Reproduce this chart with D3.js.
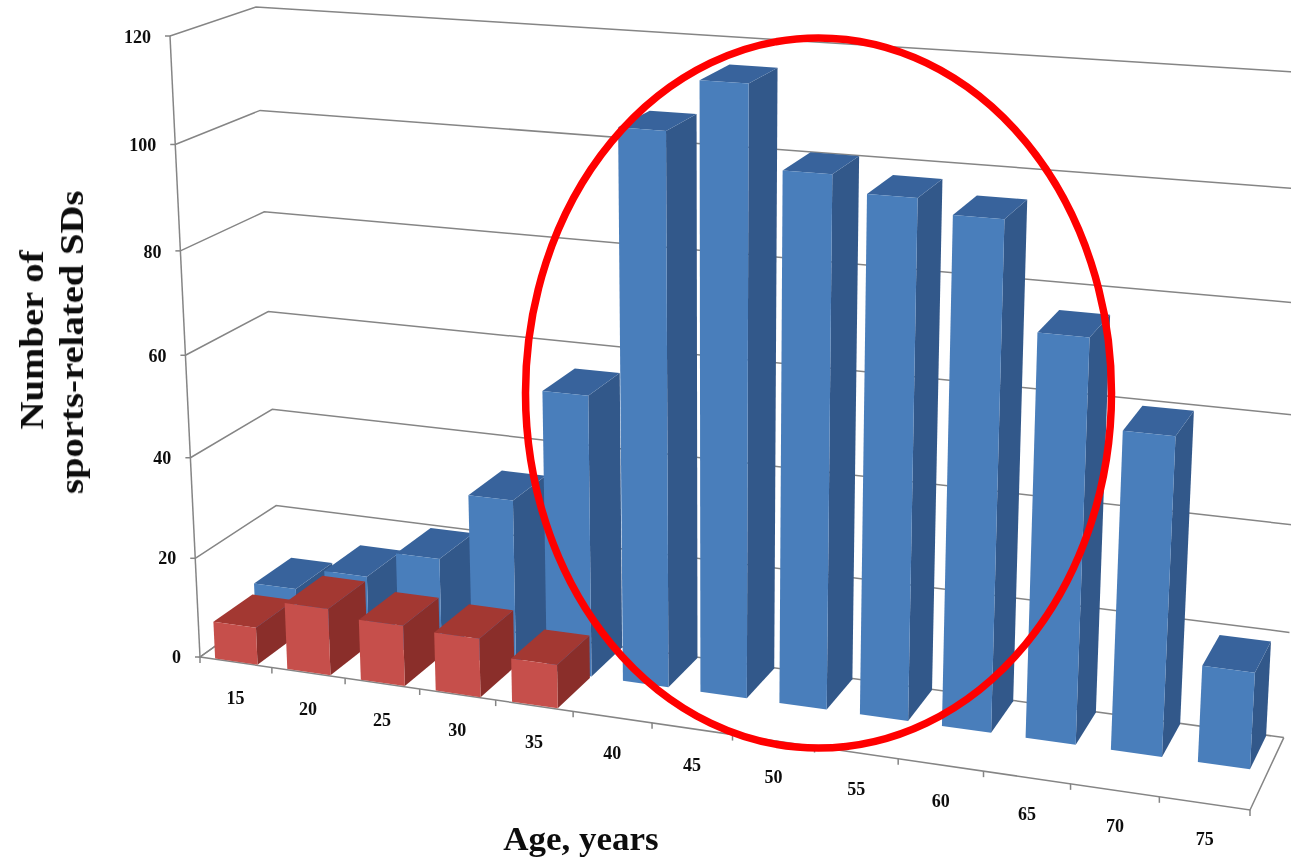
<!DOCTYPE html>
<html>
<head>
<meta charset="utf-8">
<script src="https://cdn.jsdelivr.net/npm/d3@7"></script>
<style>
  html, body { margin: 0; padding: 0; background: #fff; }
  text { font-family: "Liberation Serif", serif; font-weight: bold; fill: #111; }
</style>
</head>
<body>
<div id="chart"></div>
<script>
// DATA
const ages = [15, 20, 25, 30, 35, 40, 45, 50, 55, 60, 65, 70, 75];
const backSeries = [9.5, 14, 19.5, 33, 55, 105.5, 115, 100, 97, 94.5, 75, 59, 18];
const frontSeries = [7.5, 13.3, 12, 11.5, 8.5];
const yTicks = [0, 20, 40, 60, 80, 100, 120];
const seriesOrder = ['front', 'back'];

// PLOT DEFAULTS
const WIDTH = 1291;
const HEIGHT = 858;

// projected corners of the 3d box and the perspective weights of its three axes
const ORIGIN = [200, 657];
const END_AGE = [1250, 810];
const END_DEPTH = [280, 600];
const END_VALUE = [170, 36];
const PERSP = { age: -0.118, depth: 0.05, value: -0.055 };

const COLORS = {
  back: { front: '#4a7ebb', side: '#33588a', top: '#38649c' },
  front: { front: '#c6504b', side: '#8a2f2b', top: '#a33733' },
  grid: '#858585'
};

// scales work in the unit cube, project() then takes it to the screen
const xScale = d3.scaleBand().domain(ages).range([0, 1]).paddingInner(0.41).paddingOuter(0.2);
const zScale = d3.scaleBand().domain(seriesOrder).range([0, 1]).paddingInner(0.05).paddingOuter(0.02);
const yScale = d3.scaleLinear().domain([0, 120]).range([0, 1]);

function project (u, v, w) {
  const h = 1 + PERSP.age * u + PERSP.depth * v + PERSP.value * w;
  return [0, 1].map((i) => (
    ORIGIN[i]
    + u * ((1 + PERSP.age) * END_AGE[i] - ORIGIN[i])
    + v * ((1 + PERSP.depth) * END_DEPTH[i] - ORIGIN[i])
    + w * ((1 + PERSP.value) * END_VALUE[i] - ORIGIN[i])
  ) / h);
}

const line = d3.line();
const svg = d3.select('#chart')
  .append('svg')
  .attr('width', WIDTH)
  .attr('height', HEIGHT)
  .style('display', 'block');

const defs = svg.append('defs');
defs.append('filter').attr('id', 'soft').append('feGaussianBlur').attr('stdDeviation', 0.7);
defs.append('filter').attr('id', 'softText').append('feGaussianBlur').attr('stdDeviation', 0.5);

const plot = svg.append('g').attr('filter', 'url(#soft)');

// walls
const grid = plot.append('g').attr('fill', 'none').attr('stroke', COLORS.grid).attr('stroke-width', 1.5);
grid.selectAll('path.wall')
  .data(yTicks)
  .join('path')
  .attr('class', 'wall')
  .attr('d', (d) => line([project(0, 0, yScale(d)), project(0, 1, yScale(d)), project(1, 1, yScale(d))]));

// floor and value axis
grid.append('path').attr('d', line([project(0, 1, 0), project(0, 0, 0), project(1, 0, 0), project(1, 1, 0)]));
grid.append('path').attr('d', line([project(0, 0, 0), project(0, 0, 1)]));

// tick marks
grid.selectAll('path.xtick')
  .data(d3.range(ages.length + 1))
  .join('path')
  .attr('class', 'xtick')
  .attr('d', (i) => {
    const p = project(i / ages.length, 0, 0);
    return line([p, [p[0], p[1] + 6]]);
  });
grid.selectAll('path.ytick')
  .data(yTicks)
  .join('path')
  .attr('class', 'ytick')
  .attr('d', (d) => {
    const p = project(0, 0, yScale(d));
    return line([[p[0] - 5, p[1]], p]);
  });

// one box per age
function drawBars (name, values) {
  const g = plot.append('g').attr('class', name);
  const v0 = zScale(name);
  const v1 = v0 + zScale.bandwidth();
  const data = values.map((value, i) => ({ age: ages[i], value }));
  const boxes = g.selectAll('g').data(data).join('g');
  const u0 = (d) => xScale(d.age);
  const u1 = (d) => xScale(d.age) + xScale.bandwidth();
  const w = (d) => yScale(d.value);

  boxes.append('path')
    .attr('fill', COLORS[name].side)
    .attr('d', (d) => line([project(u1(d), v0, 0), project(u1(d), v1, 0), project(u1(d), v1, w(d)), project(u1(d), v0, w(d))]) + 'Z');
  boxes.append('path')
    .attr('fill', COLORS[name].top)
    .attr('d', (d) => line([project(u0(d), v0, w(d)), project(u1(d), v0, w(d)), project(u1(d), v1, w(d)), project(u0(d), v1, w(d))]) + 'Z');
  boxes.append('path')
    .attr('fill', COLORS[name].front)
    .attr('d', (d) => line([project(u0(d), v0, 0), project(u1(d), v0, 0), project(u1(d), v0, w(d)), project(u0(d), v0, w(d))]) + 'Z');
}
drawBars('back', backSeries);
drawBars('front', frontSeries);

const textLayer = svg.append('g').attr('filter', 'url(#softText)');

// tick labels
const labels = textLayer.append('g').attr('font-size', 18);
labels.selectAll('text.y')
  .data(yTicks)
  .join('text')
  .attr('class', 'y')
  .attr('text-anchor', 'end')
  .attr('x', (d) => project(0, 0, yScale(d))[0] - 19)
  .attr('y', (d) => project(0, 0, yScale(d))[1] + 6 + yScale(d))
  .text((d) => d);
labels.selectAll('text.x')
  .data(ages)
  .join('text')
  .attr('class', 'x')
  .attr('text-anchor', 'middle')
  .attr('x', (d) => project(xScale(d) + xScale.bandwidth() / 2, 0, 0)[0])
  .attr('y', (d) => project(xScale(d) + xScale.bandwidth() / 2, 0, 0)[1] + 42)
  .text((d) => d);

// axis titles, the original is stretched along the text
const yTitle = textLayer.append('text')
  .attr('transform', 'translate(0,340) rotate(-90) scale(1.14,1)')
  .attr('text-anchor', 'middle')
  .attr('font-size', 34);
yTitle.append('tspan').attr('x', 0).attr('y', 43).text('Number of');
yTitle.append('tspan').attr('x', -2).attr('y', 83).text('sports-related SDs');

textLayer.append('text')
  .attr('transform', 'translate(581,850) scale(1.06,1)')
  .attr('text-anchor', 'middle')
  .attr('font-size', 33)
  .text('Age, years');

// red circle drawn over the chart
svg.append('ellipse')
  .attr('cx', 818.5)
  .attr('cy', 393)
  .attr('rx', 293)
  .attr('ry', 355)
  .attr('fill', 'none')
  .attr('stroke', '#ff0000')
  .attr('stroke-width', 7.5);
</script>
</body>
</html>
